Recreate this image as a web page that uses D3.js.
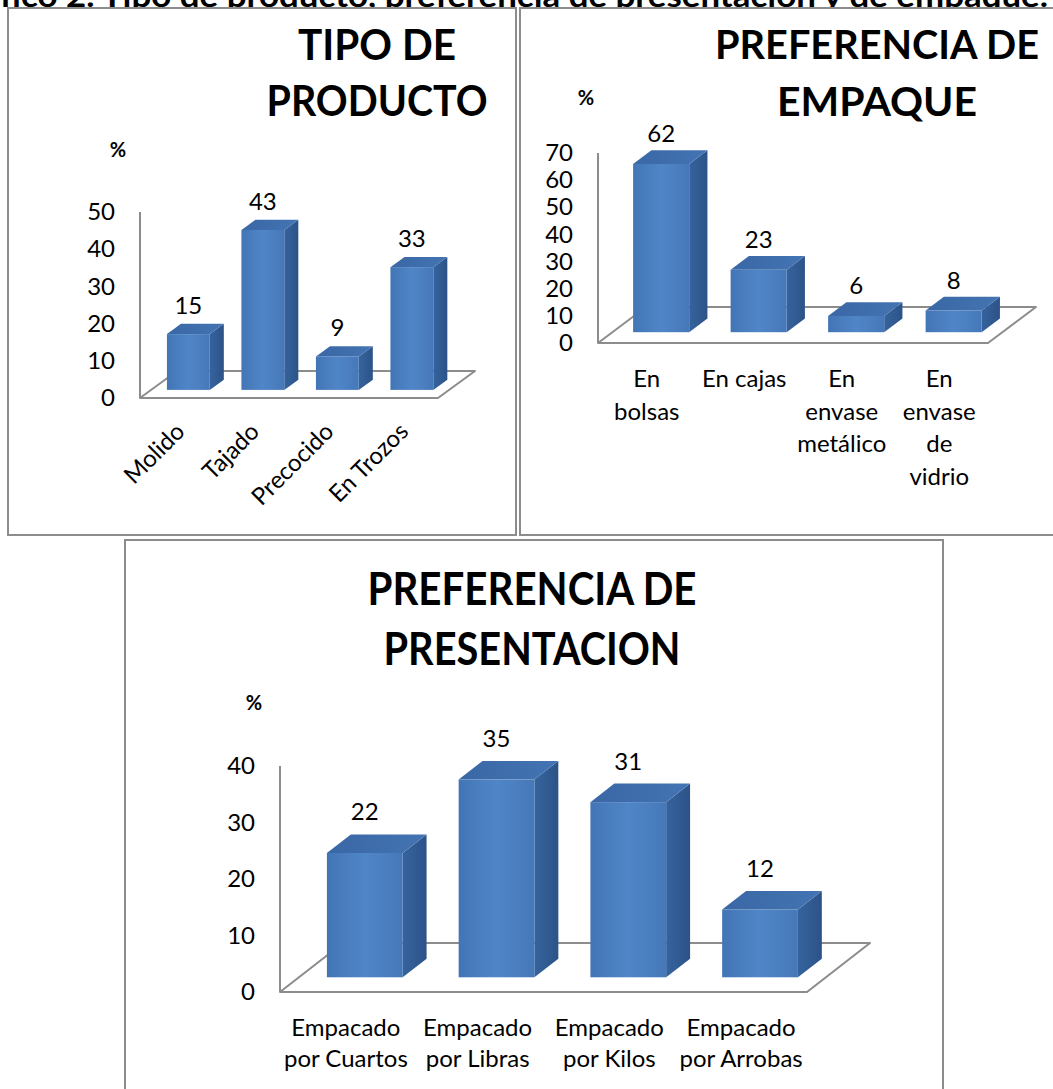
<!DOCTYPE html>
<html>
<head>
<meta charset="utf-8">
<script src="https://cdn.jsdelivr.net/npm/d3@7"></script>
<style>
    body { margin: 0; background: #ffffff; }
    svg { display: block; }
</style>
</head>
<body>
<div id="chart"></div>
<script>
'use strict';

const pageTitle = 'fico 2. Tipo de producto, preferencia de presentación y de empaque.';

const tipoTitle = ['TIPO DE', 'PRODUCTO'];
const tipoCategories = [['Molido'], ['Tajado'], ['Precocido'], ['En Trozos']];
const tipoValues = [15, 43, 9, 33];
const tipoTicks = [0, 10, 20, 30, 40, 50];

const empaqueTitle = ['PREFERENCIA DE', 'EMPAQUE'];
const empaqueCategories = [['En', 'bolsas'], ['En cajas'], ['En', 'envase', 'metálico'], ['En', 'envase', 'de', 'vidrio']];
const empaqueValues = [62, 23, 6, 8];
const empaqueTicks = [0, 10, 20, 30, 40, 50, 60, 70];

const presentacionTitle = ['PREFERENCIA DE', 'PRESENTACION'];
const presentacionCategories = [['Empacado', 'por Cuartos'], ['Empacado', 'por Libras'], ['Empacado', 'por Kilos'], ['Empacado', 'por Arrobas']];
const presentacionValues = [22, 35, 31, 12];
const presentacionTicks = [0, 10, 20, 30, 40];

const FONT = 'Lato, "Open Sans", sans-serif';
const GREY = '#8c8c8c';

class Bar3DChart {
    constructor(svg, options) {
        this.svg = svg;
        this.options = options;
        let o = options;

        this.g = svg.append('g');

        // panel frame
        this.g.append('rect')
            .attr('x', o.box.x)
            .attr('y', o.box.y)
            .attr('width', o.box.w)
            .attr('height', o.box.h)
            .style('fill', '#ffffff')
            .style('stroke', GREY)
            .style('stroke-width', 2)
        ;

        this.x = d3.scaleBand().range([o.x0, o.x1]).paddingInner(0.425).paddingOuter(0.2125);
        this.yAxis = d3.scaleLinear().domain([0, o.max]).range([o.floorY, o.top]);
        // bars stand a bit inside the floor depth
        this.y = d3.scaleLinear().domain([0, o.max])
            .range([o.floorY + 0.3 * o.depth[1], o.top + 0.3 * o.depth[1]]);
    }

    renderTitle() {
        let o = this.options;
        this.g.selectAll('.chart-title').data(o.title).enter()
            .append('text')
            .attr('class', 'chart-title')
            .attr('x', o.titleX)
            .attr('y', function (d, i) { return o.titleY[i]; })
            .attr('text-anchor', 'middle')
            .attr('textLength', function (d, i) { return o.titleWidth[i]; })
            .attr('lengthAdjust', 'spacingAndGlyphs')
            .style('font-family', FONT)
            .style('font-weight', 'bold')
            .style('font-size', o.titleSize + 'px')
            .text(function (d) { return d; })
        ;

        this.g.append('text')
            .attr('x', o.percent[0])
            .attr('y', o.percent[1])
            .attr('text-anchor', 'middle')
            .style('font-family', FONT)
            .style('font-weight', 'bold')
            .style('font-size', '20px')
            .text('%')
        ;
    }

    renderAxis(ticks) {
        let o = this.options;
        let axis = this.g.append('g')
            .attr('transform', 'translate(' + o.x0 + ',0)')
            .call(d3.axisLeft(this.yAxis).tickValues(ticks).tickSize(0).tickPadding(25))
        ;
        axis.select('.domain').remove();
        axis.attr('font-family', null).attr('font-size', null);
        axis.selectAll('text')
            .style('font-family', FONT)
            .style('font-size', o.fontSize + 'px')
            .style('fill', '#000000')
        ;

        this.g.append('line')
            .attr('x1', o.x0).attr('x2', o.x0)
            .attr('y1', this.yAxis(o.max)).attr('y2', this.yAxis(0))
            .style('stroke', GREY)
            .style('stroke-width', 2)
        ;

        // floor
        let dx = o.depth[0], dy = o.depth[1], fy = this.yAxis(0);
        this.g.append('path')
            .attr('d', 'M' + o.x0 + ',' + fy + 'L' + o.x1 + ',' + fy + 'L' + (o.x1 + dx) + ',' + (fy + dy) +
                'L' + (o.x0 + dx) + ',' + (fy + dy) + 'Z')
            .style('fill', 'none')
            .style('stroke', GREY)
            .style('stroke-width', 2)
            .style('stroke-linejoin', 'round')
        ;
    }

    render(categories, values) {
        let self = this;
        let o = this.options;
        let keys = categories.map(function (c) { return c.join(' '); });
        let data = keys.map(function (k, i) { return {key: k, lines: categories[i], value: values[i]}; });
        this.x.domain(keys);

        let bw = this.x.bandwidth();
        let ox = 0.3 * o.depth[0];
        let bdx = 0.38 * o.depth[0], bdy = 0.38 * o.depth[1];
        let base = this.y(0);

        let bars = this.g.selectAll('.bar3d').data(data).enter()
            .append('g')
            .attr('class', 'bar3d')
        ;

        bars.append('path')
            .attr('d', function (d) {
                let x = self.x(d.key) + ox + bw, t = self.y(d.value);
                return 'M' + x + ',' + t + 'L' + (x + bdx) + ',' + (t + bdy) + 'L' + (x + bdx) + ',' + (base + bdy) +
                    'L' + x + ',' + base + 'Z';
            })
            .style('fill', 'url(#gradSide)')
        ;

        bars.append('path')
            .attr('d', function (d) {
                let x = self.x(d.key) + ox, t = self.y(d.value);
                return 'M' + x + ',' + t + 'L' + (x + bdx) + ',' + (t + bdy) + 'L' + (x + bw + bdx) + ',' + (t + bdy) +
                    'L' + (x + bw) + ',' + t + 'Z';
            })
            .style('fill', 'url(#gradTop)')
        ;

        bars.append('rect')
            .attr('x', function (d) { return self.x(d.key) + ox; })
            .attr('y', function (d) { return self.y(d.value); })
            .attr('width', bw)
            .attr('height', function (d) { return base - self.y(d.value); })
            .style('fill', 'url(#gradFront)')
        ;

        // value labels
        bars.append('text')
            .attr('x', function (d) { return self.x(d.key) + ox + bw / 2; })
            .attr('y', function (d) { return self.y(d.value) + bdy - o.labelGap; })
            .attr('text-anchor', 'middle')
            .style('font-family', FONT)
            .style('font-size', o.fontSize + 'px')
            .text(function (d) { return d.value; })
        ;

        // category labels
        if (o.rotateLabels) {
            this.g.selectAll('.cat-label').data(data).enter()
                .append('text')
                .attr('class', 'cat-label')
                .attr('transform', function (d) {
                    return 'translate(' + (self.x(d.key) + bw / 2 + 9) + ',' + o.labelY + ') rotate(-45)';
                })
                .attr('text-anchor', 'end')
                .style('font-family', FONT)
                .style('font-size', o.fontSize + 'px')
                .text(function (d) { return d.key; })
            ;
        } else {
            let labels = this.g.selectAll('.cat-label').data(data).enter()
                .append('text')
                .attr('class', 'cat-label')
                .attr('text-anchor', 'middle')
                .style('font-family', FONT)
                .style('font-size', o.fontSize + 'px')
            ;
            labels.selectAll('tspan').data(function (d) {
                return d.lines.map(function (l) { return {text: l, cx: self.x(d.key) + bw / 2}; });
            }).enter()
                .append('tspan')
                .attr('x', function (l) { return l.cx; })
                .attr('y', function (l, i) { return o.labelY + i * o.lineHeight; })
                .text(function (l) { return l.text; })
            ;
        }
    }
}

const svg = d3.select('#chart').append('svg')
    .attr('width', 1053)
    .attr('height', 1089)
;

let defs = svg.append('defs');
function addGradient(id, stops) {
    let grad = defs.append('linearGradient').attr('id', id)
        .attr('x1', 0).attr('y1', 0).attr('x2', 1).attr('y2', 0);
    stops.forEach(function (s) {
        grad.append('stop').attr('offset', s[0]).attr('stop-color', s[1]);
    });
}
addGradient('gradFront', [[0, '#4375b6'], [0.5, '#4f86c7'], [1, '#4678b9']]);
addGradient('gradSide', [[0, '#36639d'], [1, '#2c5388']]);
addGradient('gradTop', [[0, '#3a67a5'], [1, '#4474b3']]);

// page heading, mostly hidden under the panels
svg.append('text')
    .attr('x', 0)
    .attr('y', 7)
    .attr('textLength', 1048)
    .attr('lengthAdjust', 'spacingAndGlyphs')
    .style('font-family', FONT)
    .style('font-weight', 'bold')
    .style('font-size', '30px')
    .text(pageTitle)
;

let tipo = new Bar3DChart(svg, {
    box: {x: 8, y: 8, w: 508, h: 527},
    title: tipoTitle, titleX: 377, titleY: [60, 116], titleWidth: [158, 221], titleSize: 42,
    percent: [118, 157],
    x0: 140, x1: 438, top: 212, floorY: 398, max: 50,
    depth: [37, -27],
    fontSize: 24, labelGap: 10,
    rotateLabels: true, labelY: 433
});
tipo.renderTitle();
tipo.renderAxis(tipoTicks);
tipo.render(tipoCategories, tipoValues);

let empaque = new Bar3DChart(svg, {
    box: {x: 520, y: 8, w: 545, h: 527},
    title: empaqueTitle, titleX: 877, titleY: [59, 116], titleWidth: [324, 200], titleSize: 40,
    percent: [586, 105],
    x0: 598, x1: 988, top: 153, floorY: 343, max: 70,
    depth: [48, -36],
    fontSize: 24, labelGap: 8,
    rotateLabels: false, labelY: 387, lineHeight: 32.5
});
empaque.renderTitle();
empaque.renderAxis(empaqueTicks);
empaque.render(empaqueCategories, empaqueValues);

let presentacion = new Bar3DChart(svg, {
    box: {x: 125, y: 540, w: 818, h: 560},
    title: presentacionTitle, titleX: 532, titleY: [605, 665], titleWidth: [329, 297], titleSize: 46,
    percent: [254, 710],
    x0: 280, x1: 807, top: 766, floorY: 992, max: 40,
    depth: [63, -49],
    fontSize: 24, labelGap: 14,
    rotateLabels: false, labelY: 1036, lineHeight: 31
});
presentacion.renderTitle();
presentacion.renderAxis(presentacionTicks);
presentacion.render(presentacionCategories, presentacionValues);
</script>
</body>
</html>
